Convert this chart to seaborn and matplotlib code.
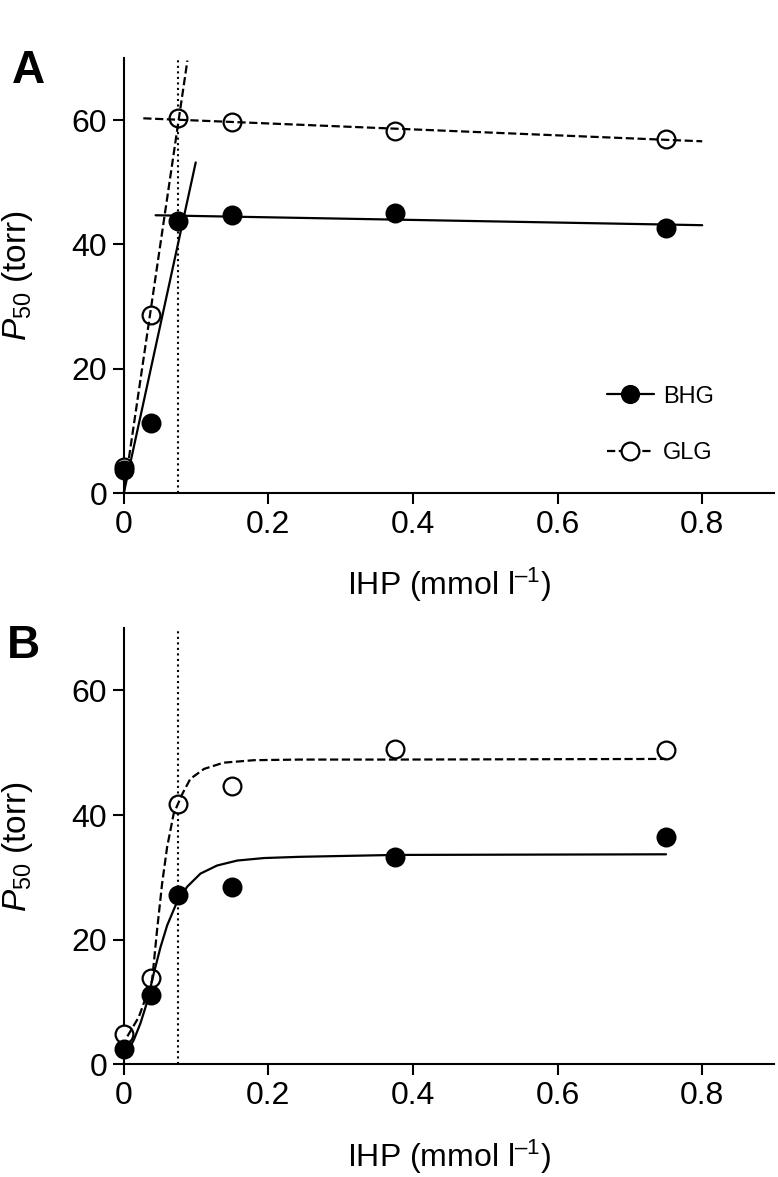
import numpy as np
import matplotlib
matplotlib.use('Agg')
import matplotlib.pyplot as plt
from matplotlib.lines import Line2D
import seaborn as sns

# measured points (IHP in mmol/l, P50 in torr)
ihp = [0.0, 0.0375, 0.075, 0.15, 0.375, 0.75]
bhg_a = [3.7, 11.3, 43.8, 44.7, 45.1, 42.7]
glg_a = [4.2, 28.7, 60.3, 59.7, 58.3, 56.9]
bhg_b = [2.4, 11.2, 27.1, 28.5, 33.3, 36.4]
glg_b = [4.9, 13.8, 41.7, 44.6, 50.6, 50.4]

# fitted lines in panel A (end points)
bhg_a_rise_x = [0.0, 0.0995]
bhg_a_rise_y = [0.0, 53.2]
bhg_a_flat_x = [0.044, 0.80]
bhg_a_flat_y = [44.7, 43.1]
glg_a_rise_x = [0.0, 0.088]
glg_a_rise_y = [0.0, 69.6]
glg_a_flat_x = [0.027, 0.80]
glg_a_flat_y = [60.3, 56.6]

# fitted curves in panel B
bhg_b_fit_x = [0.0024, 0.0138, 0.0231, 0.0323, 0.0415, 0.0508, 0.060, 0.0738, 0.0877,
               0.106, 0.129, 0.157, 0.194, 0.244, 0.375, 0.75]
bhg_b_fit_y = [1.5, 3.9, 6.6, 10.0, 14.6, 18.8, 22.3, 26.1, 28.5,
               30.6, 31.9, 32.7, 33.1, 33.3, 33.6, 33.7]
glg_b_fit_x = [0.005, 0.0208, 0.0392, 0.046, 0.053, 0.060, 0.069, 0.081, 0.092,
               0.111, 0.138, 0.18, 0.244, 0.375, 0.75]
glg_b_fit_y = [4.5, 7.6, 13.5, 21.5, 29.0, 34.9, 40.2, 43.4, 45.8,
               47.4, 48.4, 48.8, 48.9, 48.9, 49.0]

threshold = 0.075

sns.set_style('ticks')
plt.rcParams['font.family'] = ['Liberation Sans', 'DejaVu Sans']
plt.rcParams['mathtext.fontset'] = 'custom'
plt.rcParams['mathtext.rm'] = 'Liberation Sans'
plt.rcParams['mathtext.it'] = 'Liberation Sans:italic'
for key in ('text.color', 'axes.labelcolor', 'xtick.color', 'ytick.color', 'axes.edgecolor'):
    plt.rcParams[key] = 'black'

MS = 12.8
LW = 1.6

fig = plt.figure(figsize=(7.78, 11.77), dpi=100)
ax_a = fig.add_axes([0.1591, 0.5811, 0.8364, 0.3696])
ax_b = fig.add_axes([0.1591, 0.0957, 0.8364, 0.3707])

def points(ax, y, filled):
    sns.scatterplot(x=ihp, y=y, ax=ax, s=MS ** 2, marker='o',
                    color='black' if filled else 'white',
                    edgecolor='black', linewidth=1.6, zorder=3)

def fit(ax, x, y, ls):
    sns.lineplot(x=x, y=y, ax=ax, color='black', lw=LW, linestyle=ls,
                 estimator=None, sort=False, zorder=4)

# panel A
points(ax_a, glg_a, False)
points(ax_a, bhg_a, True)
fit(ax_a, bhg_a_rise_x, bhg_a_rise_y, '-')
fit(ax_a, bhg_a_flat_x, bhg_a_flat_y, '-')
fit(ax_a, glg_a_rise_x, glg_a_rise_y, '--')
fit(ax_a, glg_a_flat_x, glg_a_flat_y, '--')

handles = [Line2D([], [], color='black', lw=LW, ls='-', marker='o', ms=MS,
                  mfc='black', mec='black'),
           Line2D([], [], color='black', lw=LW, ls='--', marker='o', ms=MS,
                  mfc='white', mec='black', mew=1.6)]
ax_a.legend(handles, ['BHG', 'GLG'], loc='center left',
            bbox_to_anchor=(0.742, 0.157), frameon=False, fontsize=17,
            handlelength=2.0, handletextpad=0.4, labelspacing=1.45,
            borderpad=0, borderaxespad=0)

# panel B
points(ax_b, glg_b, False)
points(ax_b, bhg_b, True)
fit(ax_b, bhg_b_fit_x, bhg_b_fit_y, '-')
fit(ax_b, glg_b_fit_x, glg_b_fit_y, '--')

for ax in (ax_a, ax_b):
    ax.axvline(threshold, color='black', lw=1.5, ls=':', zorder=1)
    ax.set_xlim(0, 0.9)
    ax.set_ylim(0, 70)
    ax.set_xticks([0, 0.2, 0.4, 0.6, 0.8])
    ax.set_xticklabels(['0', '0.2', '0.4', '0.6', '0.8'])
    ax.set_yticks([0, 20, 40, 60])
    ax.set_yticklabels(['0', '20', '40', '60'])
    ax.tick_params(axis='both', direction='out', length=8, width=1.5,
                   labelsize=23, pad=4)
    sns.despine(ax=ax)
    for s in ('left', 'bottom'):
        ax.spines[s].set_linewidth(1.5)
    ax.set_xlabel('IHP (mmol l$^{\u20131}$)', fontsize=23)
    ax.set_ylabel('$P_{50}$ (torr)', fontsize=24)
    ax.yaxis.set_label_coords(-0.1365, 0.5)
    ax.xaxis.set_label_coords(0.5, -0.168)
    for c in ax.collections + ax.lines:
        c.set_clip_on(False)

fig.text(12 / 778, 1 - 49 / 1177, 'A', fontsize=33, fontweight='heavy', va='top')
fig.text(7 / 778, 1 - 624 / 1177, 'B', fontsize=33, fontweight='heavy', va='top')

fig.savefig('out.png', dpi=100)
